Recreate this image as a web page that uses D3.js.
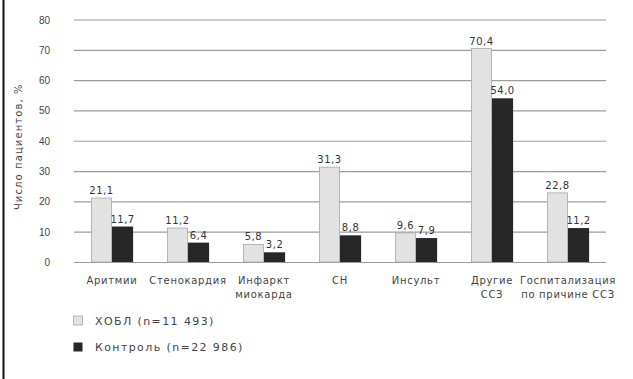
<!DOCTYPE html>
<html>
<head>
<meta charset="utf-8">
<script src="https://cdn.jsdelivr.net/npm/d3@7"></script>
<style>
  html, body { margin: 0; padding: 0; background: #fff; }
  svg { display: block; font-family: "DejaVu Sans", Verdana, sans-serif; }
</style>
</head>
<body>
<svg id="chart" width="633" height="379"></svg>
<script>
// Cardiovascular events, share of patients (%)
const categories = [
  ["Аритмии"],
  ["Стенокардия"],
  ["Инфаркт", "миокарда"],
  ["СН"],
  ["Инсульт"],
  ["Другие", "ССЗ"],
  ["Госпитализация", "по причине ССЗ"]
];
const seriesNames = ["ХОБЛ (n=11 493)", "Контроль (n=22 986)"];
const copdValues = [21.1, 11.2, 5.8, 31.3, 9.6, 70.4, 22.8];
const controlValues = [11.7, 6.4, 3.2, 8.8, 7.9, 54.0, 11.2];
const yTicks = [0, 10, 20, 30, 40, 50, 60, 70, 80];
const yTitle = "Число пациентов, %";

const colors = ["#e2e2e2", "#272727"];
const strokes = ["#a8a8a8", "#272727"];

const svg = d3.select("#chart");
const margin = { left: 74, right: 27, top: 19.5, bottom: 117 };
const W = 633, H = 379;

const x0 = d3.scaleBand()
  .domain(d3.range(categories.length))
  .range([margin.left, W - margin.right])
  .paddingInner(0)
  .paddingOuter(0);

const x1 = d3.scaleBand()
  .domain([0, 1])
  .range([0, x0.bandwidth()])
  .paddingInner(0)
  .paddingOuter(0.8);

const y = d3.scaleLinear()
  .domain([0, 80])
  .range([H - margin.bottom, margin.top]);

// left frame line
svg.append("line")
  .attr("x1", 3.5).attr("x2", 3.5)
  .attr("y1", 0).attr("y2", H)
  .attr("stroke", "#111").attr("stroke-width", 2);

// gridlines + tick labels
const yAxis = d3.axisLeft(y)
  .tickValues(yTicks)
  .tickSize(-(W - margin.left - margin.right))
  .tickPadding(24)
  .tickFormat(d3.format("d"));

const gy = svg.append("g")
  .attr("transform", `translate(${margin.left},0)`)
  .call(yAxis);
gy.select(".domain").remove();
gy.selectAll(".tick line")
  .attr("stroke", "#9c9c9c")
  .attr("stroke-width", 1.2);
gy.selectAll(".tick text")
  .attr("fill", "#444")
  .attr("font-size", 10)
  .attr("dy", "0.35em");

// y title
svg.append("text")
  .attr("transform", `translate(22,${(y(0) + y(80)) / 2 + 6}) rotate(-90)`)
  .attr("text-anchor", "middle")
  .attr("font-size", 10)
  .attr("letter-spacing", 1.1)
  .attr("fill", "#444")
  .text(yTitle);

// bars
const rows = categories.map((c, i) => ({ i, vals: [copdValues[i], controlValues[i]] }));

const groups = svg.append("g").selectAll("g")
  .data(rows)
  .join("g")
  .attr("transform", d => `translate(${x0(d.i)},0)`);

groups.selectAll("rect")
  .data(d => d.vals.map((v, s) => ({ v, s })))
  .join("rect")
  .attr("x", d => x1(d.s) + (d.s === 0 ? 0.5 : 0))
  .attr("width", d => x1.bandwidth() - (d.s === 0 ? 1 : 0))
  .attr("y", d => y(d.v))
  .attr("height", d => y(0) - y(d.v))
  .attr("fill", d => colors[d.s])
  .attr("stroke", d => strokes[d.s])
  .attr("stroke-width", d => d.s === 0 ? 0.8 : 0);

const fmt = v => d3.format(".1f")(v).replace(".", ",");

groups.selectAll("text.val")
  .data(d => d.vals.map((v, s) => ({ v, s })))
  .join("text")
  .attr("class", "val")
  .attr("x", d => x1(d.s) + x1.bandwidth() / 2)
  .attr("y", d => y(d.v) - 4)
  .attr("text-anchor", "middle")
  .attr("font-size", 10)
  .attr("letter-spacing", 0.5)
  .attr("fill", "#333")
  .text(d => fmt(d.v));

// category labels
const catG = svg.append("g");
categories.forEach((lines, i) => {
  const t = catG.append("text")
    .attr("x", x0(i) + x0.bandwidth() / 2)
    .attr("y", 284)
    .attr("text-anchor", "middle")
    .attr("font-size", 10)
    .attr("letter-spacing", 0.7)
    .attr("fill", "#444");
  lines.forEach((ln, k) => {
    t.append("tspan")
      .attr("x", x0(i) + x0.bandwidth() / 2)
      .attr("dy", k === 0 ? 0 : 14)
      .text(ln);
  });
});

// legend
const leg = svg.append("g");
seriesNames.forEach((name, s) => {
  const ly = 316 + s * 26.5;
  leg.append("rect")
    .attr("x", 73.5).attr("y", ly)
    .attr("width", 9).attr("height", 9)
    .attr("fill", colors[s])
    .attr("stroke", strokes[s])
    .attr("stroke-width", s === 0 ? 0.8 : 0);
  leg.append("text")
    .attr("x", 95)
    .attr("y", ly + 8.5)
    .attr("font-size", 11)
    .attr("letter-spacing", 1.4)
    .attr("fill", "#444")
    .text(name);
});
</script>
</body>
</html>
